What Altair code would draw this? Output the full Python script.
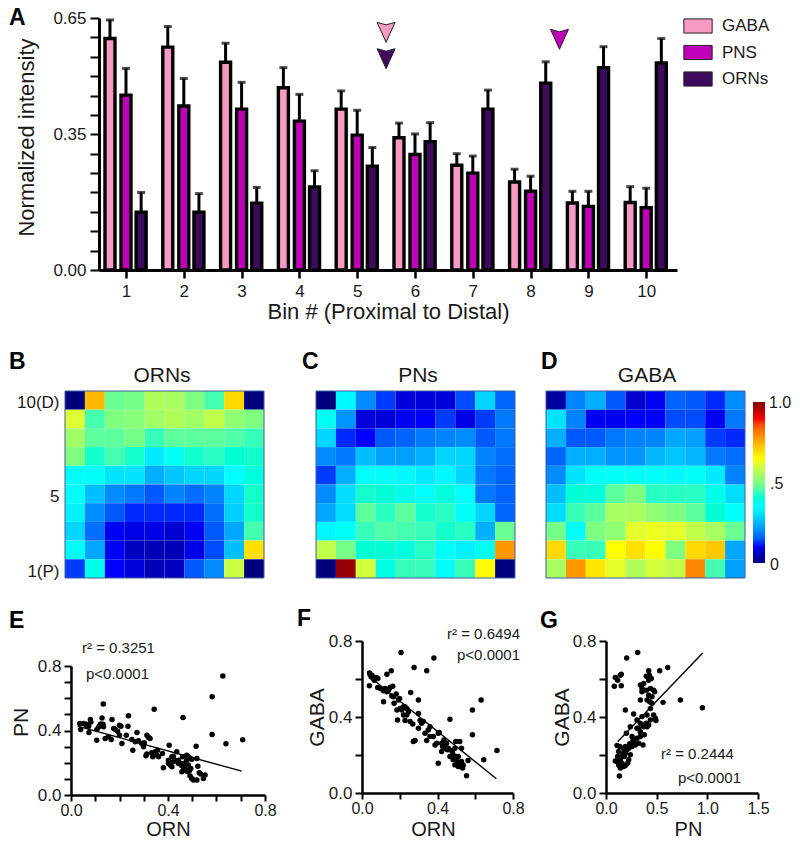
import altair as alt
import pandas as pd

FONT = "Liberation Sans"
INK = "#1a1a1a"

# ---------- panel A ----------
bins = list(range(1, 11))
series = ["GABA", "PNS", "ORNs"]
colors = ["#F79AC4", "#C000B8", "#3D0A5E"]
gaba = [.597, .575, .536, .470, .415, .341, .270, .227, .173, .174]
gaba_top = [.645, .628, .585, .522, .462, .379, .300, .260, .203, .215]
pns = [.451, .423, .415, .384, .348, .298, .250, .203, .164, .161]
pns_top = [.520, .494, .484, .453, .412, .351, .294, .242, .203, .211]
orn = [.149, .149, .172, .214, .268, .331, .415, .482, .522, .534]
orn_top = [.200, .197, .213, .256, .316, .380, .464, .537, .576, .597]
group_offset = [-0.277, 0.0, 0.262]
a_yticks = [0, .05, .10, .15, .20, .25, .30, .35, .40, .45, .50, .55, .60, .65]
a_ylabels = ["0.00", "0.35", "0.65"]
arrow_bin = [5.5, 5.5, 8.5]
arrow_val = [.613, .545, .595]
arrow_col = ["#F79AC4", "#3D0A5E", "#C000B8"]

# ---------- heat maps (row 10 first, row 1 last) ----------
orn_map = [
    [0, .74, .48, .49, .56, .55, .50, .45, .70, 0],
    [.61, .45, .50, .51, .54, .56, .54, .58, .52, .50],
    [.54, .47, .47, .49, .44, .47, .47, .47, .46, .44],
    [.50, .42, .45, .42, .32, .37, .42, .43, .41, .42],
    [.36, .36, .31, .31, .24, .27, .29, .29, .35, .40],
    [.36, .26, .20, .18, .15, .19, .17, .19, .29, .42],
    [.33, .20, .15, .12, .12, .12, .12, .17, .28, .42],
    [.29, .17, .10, .09, .09, .07, .10, .15, .23, .45],
    [.36, .23, .10, .06, .05, .05, .09, .14, .26, .69],
    [.13, .38, .11, .08, .05, .06, .15, .20, .59, 0],
]
pn_map = [
    [0, .34, .20, .13, .08, .08, .08, .14, .29, .16],
    [.37, .21, .08, .08, .10, .11, .13, .09, .13, .18],
    [.29, .12, .11, .15, .16, .18, .19, .20, .15, .18],
    [.20, .18, .26, .22, .22, .24, .29, .29, .19, .17],
    [.13, .24, .35, .36, .34, .32, .34, .29, .18, .16],
    [.20, .30, .42, .41, .38, .35, .40, .35, .18, .16],
    [.23, .30, .47, .43, .47, .42, .43, .36, .29, .16],
    [.34, .36, .44, .46, .45, .44, .42, .43, .24, .48],
    [.58, .49, .41, .41, .40, .43, .36, .33, .37, .78],
    [0, .98, .60, .39, .44, .44, .36, .44, .65, 0],
]
gaba_map = [
    [.03, .19, .24, .15, .07, .10, .16, .15, .12, .20],
    [.31, .19, .10, .10, .11, .11, .14, .14, .10, .18],
    [.24, .15, .15, .18, .19, .19, .23, .22, .13, .12],
    [.16, .24, .24, .21, .21, .25, .27, .25, .18, .17],
    [.20, .31, .36, .36, .36, .36, .34, .36, .32, .19],
    [.26, .41, .40, .47, .50, .43, .43, .43, .38, .30],
    [.30, .44, .47, .55, .55, .52, .50, .47, .41, .36],
    [.49, .36, .50, .52, .62, .63, .62, .58, .55, .48],
    [.70, .44, .44, .65, .69, .65, .50, .70, .72, .23],
    [.55, .78, .68, .62, .56, .60, .58, .80, .45, .22],
]
jet_stops = [0, .11, .35, .5, .65, .89, 1]
jet_cols = ["#00007f", "#0000ff", "#00ffff", "#7fff7f", "#ffff00", "#ff0000", "#7f0000"]

# ---------- scatter panels ----------
e_x = [.036, .040, .052, .063, .073, .080, .082, .074, .107, .106, .115, .125, .128, .132, .134, .133, .155, .166, .169, .176,
       .182, .192, .200, .206, .200, .210, .228, .235, .237, .251, .255, .272, .278, .292, .299, .302, .313, .320, .309, .326,
       .333, .337, .343, .347, .357, .361, .377, .381, .405, .402, .409, .416, .422, .429, .436, .443, .450, .460, .462, .464,
       .471, .477, .480, .484, .491, .494, .491, .498, .505, .519, .519, .523, .529, .535, .546, .553, .516, .582, .582, .626,
       .639, .708, .477, .457, .466, .488, .402, .416, .121, .063, .141, .265, .299, .313, .354, .422, .443, .457, .484, .498]
e_y = [.443, .406, .443, .433, .427, .468, .452, .388, .406, .340, .423, .439, .478, .439, .423, .565, .361, .344, .468, .412,
       .408, .396, .433, .427, .371, .320, .371, .427, .491, .344, .278, .388, .336, .320, .299, .324, .371, .357, .243, .351,
       .262, .237, .532, .268, .278, .237, .258, .169, .309, .216, .186, .237, .206, .216, .268, .216, .196, .237, .480, .155,
       .165, .216, .144, .186, .227, .165, .118, .103, .093, .227, .093, .179, .138, .130, .103, .124, .303, .375, .610, .738,
       .318, .342, .247, .144, .196, .151, .196, .175, .439, .439, .351, .330, .315, .254, .247, .241, .196, .181, .237, .221]
f_x = [.040, .039, .049, .062, .076, .084, .083, .097, .114, .123, .114, .132, .155, .141, .149, .163, .158, .170, .181, .193,
       .199, .188, .202, .211, .207, .220, .228, .237, .237, .258, .255, .269, .276, .272, .281, .299, .299, .299, .308, .316,
       .325, .334, .343, .343, .351, .360, .360, .381, .378, .387, .404, .409, .404, .422, .427, .434, .439, .448, .452, .466,
       .466, .478, .483, .492, .497, .501, .506, .518, .483, .492, .510, .527, .527, .533, .554, .562, .585, .585, .631, .645,
       .715, .466, .501, .518, .536, .510, .457, .422, .395, .228, .246, .220, .185, .167, .132, .065, .053]
f_y = [.632, .564, .611, .603, .608, .603, .555, .550, .538, .550, .480, .625, .643, .541, .555, .562, .510, .472, .521, .489,
       .498, .384, .445, .437, .739, .410, .454, .445, .410, .529, .376, .363, .660, .271, .276, .489, .419, .341, .381, .367,
       .376, .314, .643, .276, .332, .349, .297, .711, .297, .253, .314, .318, .157, .262, .245, .279, .236, .262, .227, .388,
       .227, .218, .201, .236, .271, .192, .157, .271, .175, .148, .140, .236, .166, .131, .091, .171, .437, .306, .489, .175,
       .224, .192, .175, .143, .148, .192, .236, .218, .262, .381, .428, .454, .437, .507, .533, .594, .620]
g_x = [.082, .092, .141, .151, .115, .151, .204, .313, .191, .109, .132, .092, .115, .141, .158, .125, .174, .191, .135, .168,
       .174, .191, .214, .224, .240, .141, .158, .201, .240, .257, .273, .273, .289, .306, .322, .339, .322, .355, .365, .378,
       .339, .339, .355, .372, .355, .398, .421, .421, .447, .428, .398, .438, .470, .421, .454, .480, .431, .438, .470, .487,
       .493, .405, .421, .372, .398, .530, .609, .563, .734, .951, .339, .306, .266, .234, .207, .181, .109, .125, .191, .224,
       .257, .306, .372, .405, .438, .454, .405, .339, .141]
g_y = [.562, .608, .620, .625, .594, .564, .711, .739, .437, .250, .089, .169, .192, .140, .157, .218, .236, .245, .245, .210,
       .140, .145, .157, .175, .201, .175, .192, .314, .349, .297, .416, .271, .253, .384, .341, .297, .262, .402, .253, .306,
       .489, .568, .550, .576, .533, .615, .594, .643, .603, .620, .541, .550, .541, .515, .507, .533, .480, .445, .410, .393,
       .381, .410, .358, .349, .367, .643, .660, .477, .489, .449, .323, .288, .279, .259, .227, .192, .166, .148, .210, .236,
       .245, .341, .358, .349, .384, .472, .489, .367, .131]
e_fit_x, e_fit_y = [.027, .704], [.427, .148]
f_fit_x, f_fit_y = [.030, .712], [.620, .075]
g_fit_x, g_fit_y = [.115, .954], [.270, .737]
tick_01 = [0, .1, .2, .3, .4, .5, .6, .7, .8]
tick_02 = [0, .2, .4, .6, .8]
tick_05 = [0, .5, 1.0, 1.5]

W, H = 784, 830   # full drawing area; every panel gets its own scales inside it
M = 8             # page margin


def note(text, x, y, size=15, bold=False, align="left"):
    return alt.Chart(pd.DataFrame({"t": [text]})).mark_text(
        font=FONT, fontSize=size, fontWeight="bold" if bold else "normal",
        align=align, baseline="middle", color=INK if not bold else "black"
    ).encode(text="t:N", x=alt.value(x - M), y=alt.value(y - M))


def only(labels, fmt):
    lst = ",".join("'%s'" % s for s in labels)
    return f"indexof([{lst}], format(datum.value,'{fmt}'))>=0 ? format(datum.value,'{fmt}') : ''"


def axis_common(**kw):
    base = dict(labelFont=FONT, labelFontSize=17, titleFont=FONT, titleFontSize=21,
                titleFontWeight="normal", labelColor=INK, titleColor=INK, domainColor="black",
                tickColor="black", grid=False, labelOverlap=False, labelFlush=False)
    base.update(kw)
    return alt.Axis(**base)


def xs_scale(domain, left, right):
    return alt.Scale(domain=domain, range=[left - M, right - M], nice=False, zero=False, padding=0)


def ys_scale(domain, bottom, top):
    return alt.Scale(domain=domain, range=[bottom - M, top - M], nice=False, zero=False, padding=0)


# ---------- build A ----------
rows = []
for s, off, vals, tops in zip(series, group_offset, [gaba, pns, orn], [gaba_top, pns_top, orn_top]):
    for b, v, t in zip(bins, vals, tops):
        rows.append({"bin": b, "pos": b + off, "v": v, "top": t, "series": s})
adf = pd.DataFrame(rows)
xa = xs_scale([0.533, 10.533], 99, 677)
ya = ys_scale([0, .65], 270, 18)
xa_axis = axis_common(orient="bottom", offset=270 - M - H, values=bins, format="d", title="Bin # (Proximal to Distal)",
                      tickSize=8, tickWidth=2.5, domainWidth=3, labelPadding=5, titlePadding=2, titleFontSize=22, zindex=1)
ya_axis = axis_common(orient="left", offset=-(99 - M), values=a_yticks, labelExpr=only(a_ylabels, ".2f"),
                      title="Normalized intensity", tickSize=9, tickWidth=2, domainWidth=3, labelPadding=4,
                      titlePadding=14, titleFontSize=22, titleY=137 - M, zindex=1)
bars = alt.Chart(adf).mark_bar(size=10, stroke="black", strokeWidth=3.4).encode(
    x=alt.X("pos:Q", scale=xa, axis=xa_axis),
    y=alt.Y("v:Q", scale=ya, axis=ya_axis),
    color=alt.Color("series:N", scale=alt.Scale(domain=series, range=colors), sort=series, legend=alt.Legend(
        orient="none", legendX=683 - M, legendY=11 - M, title=None, symbolType="M-1,-0.5H1V0.5H-1Z", symbolSize=800,
        symbolStrokeColor="#222222", symbolStrokeWidth=1, symbolOpacity=1, labelFont=FONT, labelFontSize=17,
        labelColor=INK, labelOffset=9, rowPadding=1.5, padding=0)),
)
stems = alt.Chart(adf).mark_rule(color="black", strokeWidth=3).encode(
    x=alt.X("pos:Q", scale=xa, axis=None), y=alt.Y("v:Q", scale=ya, axis=None), y2="top:Q")
caps = alt.Chart(adf).mark_tick(color="black", size=8, thickness=3, orient="horizontal").encode(
    x=alt.X("pos:Q", scale=xa, axis=None), y=alt.Y("top:Q", scale=ya, axis=None))
arrow_df = pd.DataFrame({"b": arrow_bin, "v": arrow_val, "c": arrow_col})
arrows = alt.Chart(arrow_df).mark_point(
    shape="M-0.9,-1L0,-0.75L0.9,-1L0,1Z", size=400, filled=True, stroke="#222222", strokeWidth=1, opacity=1
).encode(x=alt.X("b:Q", scale=xa, axis=None), y=alt.Y("v:Q", scale=ya, axis=None), fill=alt.Fill("c:N", scale=None))
layers = [bars, stems, caps, arrows, note("A", 9, 18, 23, True)]


# ---------- build heat maps ----------
def heat(matrix, title, letter, lx, ly, px, tx, show_y=False, show_legend=False):
    py, w, h = 391, 199, 187
    recs = [{"row": 10 - i, "col": j + 1, "v": v} for i, r in enumerate(matrix) for j, v in enumerate(r)]
    legend = None
    if show_legend:
        legend = alt.Legend(
            orient="none", legendX=753 - M, legendY=402 - M, title=None, gradientLength=161, gradientThickness=12,
            values=[0, .5, 1], labelExpr="''", labelFontSize=1, labelOffset=0, tickCount=3, padding=0,
            gradientStrokeWidth=0)
    yaxis = None
    if show_y:
        yaxis = alt.Axis(orient="left", offset=-(px - M), values=[10, 5, 1],
                         labelExpr="datum.value==10?'10(D)':datum.value==1?'1(P)':'5'",
                         labelFont=FONT, labelFontSize=17, labelColor=INK, title=None, ticks=False, domain=False,
                         labelPadding=6, labelAngle=0, labelOffset=3)
    rect = alt.Chart(pd.DataFrame(recs)).mark_rect().encode(
        x=alt.X("col:O", axis=None, scale=alt.Scale(type="band", domain=bins, range=[px - M, px + w - M],
                                                    paddingInner=0, paddingOuter=0)),
        y=alt.Y("row:O", axis=yaxis, scale=alt.Scale(type="band", domain=bins[::-1], range=[py - M, py + h - M],
                                                     paddingInner=0, paddingOuter=0)),
        color=alt.Color("v:Q", scale=alt.Scale(domain=jet_stops, range=jet_cols, clamp=True), legend=legend),
    )
    border = alt.Chart(pd.DataFrame({"a": [0]})).mark_rect(fillOpacity=0, stroke="#3f5f9f", strokeWidth=1).encode(
        x=alt.value(px - M), x2=alt.value(px + w - M), y=alt.value(py - M), y2=alt.value(py + h - M))
    return [rect, border, note(title, tx, 376, 21, align="center"), note(letter, lx, ly, 23, True)]


layers += heat(orn_map, "ORNs", "B", 9, 362, 65, 162, show_y=True)
layers += heat(pn_map, "PNs", "C", 302, 362, 316, 418)
layers += heat(gaba_map, "GABA", "D", 541, 362, 546, 647, show_legend=True)
layers += [note("1.0", 769, 403, 16), note(".5", 770, 484, 16), note("0", 770, 565, 16)]


# ---------- build scatter panels ----------
def scatter(xs, ys, fx, fy, xt, yt, xdom, xvals, xlabels, yvals, px, py, w, h, letter, lx, ly, notes,
            title_x=None, title_y=None, ytitle_pad=6):
    xscale = xs_scale(xdom, px, px + w)
    yscale = ys_scale([0, .8], py + h, py)
    xk = dict(orient="bottom", offset=py + h - M - H, values=xvals, labelExpr=only(xlabels, ".1f"), title=xt,
              tickSize=6, tickWidth=2, domainWidth=2.5, labelPadding=1, labelFontSize=16,
              titleY=835 - (py + h), titleBaseline="alphabetic", titleFontSize=20)
    yk = dict(orient="left", offset=-(px - M), values=yvals, labelExpr=only(["0.0", "0.4", "0.8"], ".1f"), title=yt,
              tickSize=7, tickWidth=2, domainWidth=2.5, labelPadding=3, titlePadding=ytitle_pad)
    if title_x is not None:
        xk["titleX"] = title_x - M
    if title_y is not None:
        yk["titleY"] = title_y - M
    pts = alt.Chart(pd.DataFrame({"x": xs, "y": ys})).mark_circle(size=30, color="black", opacity=1).encode(
        x=alt.X("x:Q", scale=xscale, axis=axis_common(**xk)),
        y=alt.Y("y:Q", scale=yscale, axis=axis_common(**yk)),
    )
    fit = alt.Chart(pd.DataFrame({"x": fx, "y": fy})).mark_line(color="black", strokeWidth=1.4).encode(
        x=alt.X("x:Q", scale=xscale, axis=None), y=alt.Y("y:Q", scale=yscale, axis=None))
    out = [pts, fit, note(letter, lx, ly, 23, True)]
    out += [note(t, x, y, 15, align=al) for t, x, y, al in notes]
    return out


layers += scatter(e_x, e_y, e_fit_x, e_fit_y, "ORN", "PN", [0, .8], tick_01, ["0.0", "0.4", "0.8"], tick_01,
                  71, 666, 194, 129, "E", 9, 621,
                  [("r² = 0.3251", 82, 648, "left"), ("p<0.0001", 86, 674, "left")], title_y=722, ytitle_pad=6)
layers += scatter(f_x, f_y, f_fit_x, f_fit_y, "ORN", "GABA", [0, .8], tick_02, ["0.0", "0.4", "0.8"], tick_02,
                  362, 641, 151, 152, "F", 297, 619,
                  [("r² = 0.6494", 520, 634, "right"), ("p<0.0001", 520, 655, "right")], title_x=433, ytitle_pad=1)
layers += scatter(g_x, g_y, g_fit_x, g_fit_y, "PN", "GABA", [0, 1.5], tick_05, ["0.0", "0.5", "1.0", "1.5"], tick_02,
                  606, 641, 152, 152, "G", 540, 621,
                  [("r² = 0.2444", 661, 754, "left"), ("p<0.0001", 678, 778, "left")], title_x=688, ytitle_pad=0)

chart = alt.layer(*layers).resolve_scale(
    x="independent", y="independent", color="independent"
).resolve_axis(x="independent", y="independent").properties(
    width=W, height=H, padding=0, background="white",
    autosize=alt.AutoSizeParams(type="none"), view=alt.ViewConfig(stroke=None))
chart.save("out.html", embed_options={"renderer": "svg", "actions": False})
